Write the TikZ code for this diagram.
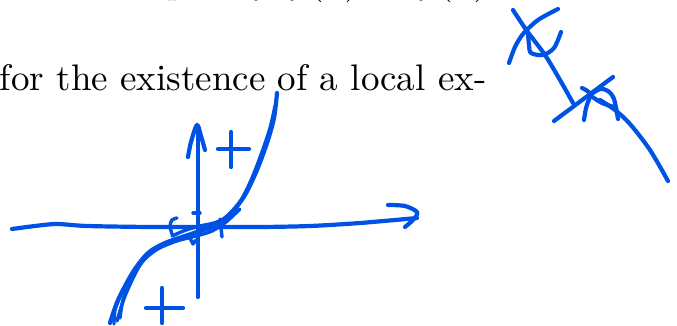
\documentclass[tikz,border=0pt]{standalone}
\definecolor{ink}{RGB}{0,82,228}
\tikzset{
  pen/.style={draw=ink, line width=4.2pt, line cap=round, line join=round},
  thinpen/.style={draw=ink, line width=3.4pt, line cap=round, line join=round},
  txt/.style={inner sep=0pt, outer sep=0pt, anchor=base west, scale=3.7},
}
\begin{document}
\begin{tikzpicture}[x=1pt,y=-1pt]
\useasboundingbox (0,0) rectangle (677,326);
\clip (0,0) rectangle (677,326);
% clipped top line
\node[txt] (t1) at (167,-6) {p};
\node[txt] (t2) at (251,-6) {$f$};
\node[txt] (t3) at (287,-6) {$f(x)$};
\node[txt] (t4) at (416,-6) {$f(x)$};
% main text line
\node[txt] (line) at (0,91) {for the existence of a local ex-};

% ---- graph ----
% x axis
\draw[pen] plot[smooth] coordinates {(12,229) (35,226) (57,224) (87,226) (150,227) (200,227) (260,227) (310,226) (360,223) (417,218)};
\draw[pen] plot[smooth] coordinates {(388,205) (405,206) (417,212) (414,219) (405,227)};
% y axis
\draw[pen] (198,297) -- (198,128);
\draw[pen] plot[smooth] coordinates {(188,157) (191,142) (197,125) (201,136) (205,150)};
% plus signs
\draw[pen] (218,149) -- (249,149);
\draw[pen] (231,132) -- (231,167);
\draw[pen] (146,308) -- (183,308);
\draw[pen] (162,288) -- (162,323);
% cubic strokes
\draw[pen] plot[smooth] coordinates {(110,323) (118,300) (133,272) (148,253) (165,243) (185,236) (200,231) (215,226) (230,215) (245,195) (257,170) (267,143) (274,118) (277,93)};
\draw[thinpen] plot[smooth] coordinates {(117,321) (125,296) (140,265) (156,250) (176,241) (196,233) (212,226) (227,216) (241,200) (252,178) (262,152) (270,128) (275,106)};
\draw[thinpen] plot[smooth] coordinates {(120,318) (123,300) (131,280) (145,258) (162,246) (180,240) (196,236) (212,231) (226,222) (240,209)};
\draw[thinpen] plot[smooth] coordinates {(114,324) (115,310) (122,292)};
\draw[thinpen] plot[smooth] coordinates {(172,236) (186,230) (200,226) (214,223) (224,219)};
% marks near origin
\draw[thinpen] plot[smooth] coordinates {(177,218) (172,220) (170,226) (172,234)};
\draw[thinpen] (193,213) -- (200,213);
\draw[thinpen] (220,219) -- (222,237);
\draw[thinpen] (190,238) -- (193,244) -- (196,240);

% ---- right sketch ----
\draw[pen] plot[smooth] coordinates {(513,10) (527,31) (545,55) (560,80) (573,103)};
\draw[pen] plot[smooth] coordinates {(509,63) (515,47) (523,34) (538,20) (558,9)};
\draw[pen] plot[smooth] coordinates {(528,33) (529,45) (531,53) (543,55) (554,48) (561,32)};
\draw[pen] (554,121) -- (613,77);
\draw[pen] plot[smooth] coordinates {(582,88) (590,94) (586,108) (584,120)};
\draw[pen] plot[smooth] coordinates {(590,95) (600,89) (608,91) (614,99) (618,119)};
\draw[pen] plot[smooth] coordinates {(591,96) (602,103) (614,107)};
\draw[pen] plot[smooth] coordinates {(600,100) (615,110) (630,124) (650,150) (668,181)};
\end{tikzpicture}
\end{document}
